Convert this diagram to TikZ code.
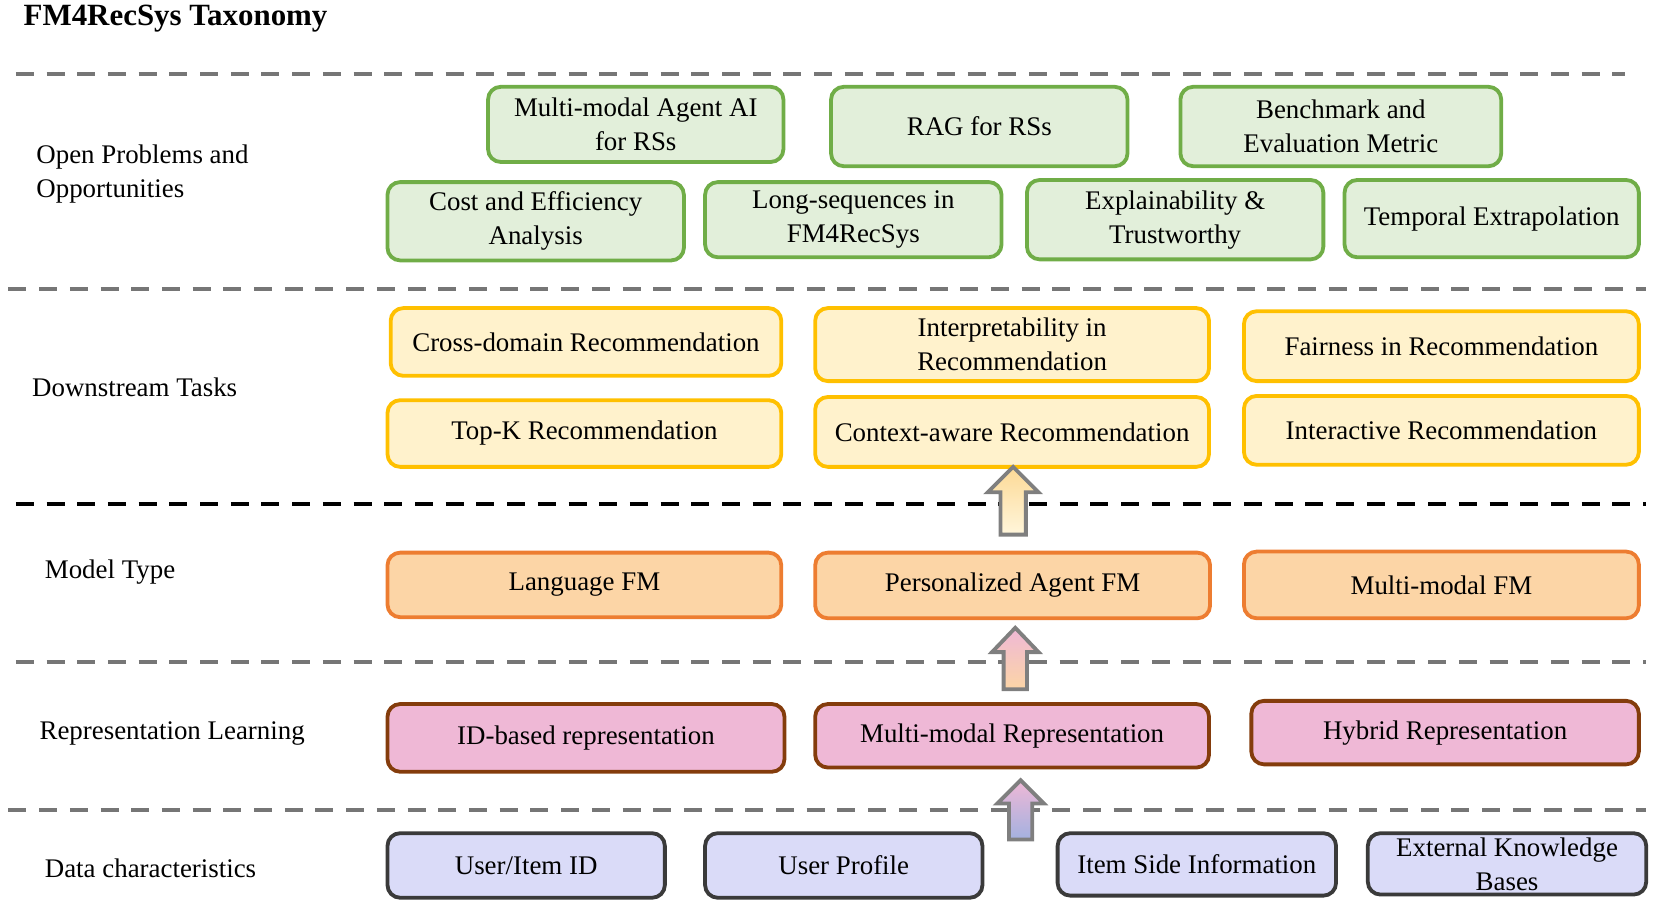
\documentclass[tikz,border=0pt]{standalone}
\usepackage{fontspec}
\setmainfont{Liberation Serif}
\usetikzlibrary{positioning}

\definecolor{greenfill}{HTML}{E2EFDA}
\definecolor{greenline}{HTML}{70AD47}
\definecolor{yellowfill}{HTML}{FFF2CC}
\definecolor{yellowline}{HTML}{FFC000}
\definecolor{orangefill}{HTML}{FCD5A6}
\definecolor{orangeline}{HTML}{ED7D31}
\definecolor{pinkfill}{HTML}{EFB8D6}
\definecolor{pinkline}{HTML}{843C0C}
\definecolor{bluefill}{HTML}{DADBF8}
\definecolor{blueline}{HTML}{3A3A3A}
\definecolor{arrowblue}{HTML}{A3B1E0}
\definecolor{sepgray}{HTML}{767676}
\definecolor{arrowline}{HTML}{7F7F7F}

\tikzset{
	box/.style={draw, rounded corners=6pt, line width=1.8pt, align=center, inner sep=2pt,
		font=\fontsize{12.7}{16}\selectfont},
	openbox/.style={box, draw=greenline, fill=greenfill},
	taskbox/.style={box, draw=yellowline, fill=yellowfill},
	modelbox/.style={box, draw=orangeline, fill=orangefill},
	reprbox/.style={box, draw=pinkline, fill=pinkfill},
	databox/.style={box, draw=blueline, fill=bluefill},
	layerlabel/.style={anchor=west, align=left, inner sep=0pt, font=\fontsize{12.7}{16}\selectfont},
	sepline/.style={line width=1.8pt, dash pattern=on 8.5pt off 6pt},
	uparrow/.style={draw=arrowline, line width=1.8pt, line join=miter}
}

\begin{document}
\begin{tikzpicture}[x=0.5pt, y=-0.5pt]
	\useasboundingbox (0,0) rectangle (1568,862);
	
	% Title
	\node[anchor=west, inner sep=0pt, font=\fontsize{14.6}{18}\selectfont\bfseries] (title) at (22,18) {FM4RecSys Taxonomy};
	
	% Separators
	\draw[sepline, sepgray] (15,70) -- (1535,70);
	\draw[sepline, sepgray] (8,273) -- (1555,273);
	\draw[sepline, black] (15,476) -- (1555,476);
	\draw[sepline, sepgray] (15,625) -- (1555,625);
	\draw[sepline, sepgray] (8,765) -- (1555,765);
	
	% Layer names
	\node[layerlabel] (lopen) at (34,164) {Open Problems and\\Opportunities};
	\node[layerlabel] (ltask) at (30,366) {Downstream Tasks};
	\node[layerlabel] (lmodel) at (42,540) {Model Type};
	\node[layerlabel] (lrepr) at (37,693) {Representation Learning};
	\node[layerlabel] (ldata) at (42,820) {Data characteristics};
	
	% Open problems
	\node[openbox, minimum width=139.5pt, minimum height=35.5pt] (mmagent) at (600.5,117.5) {Multi-modal Agent AI\\for RSs};
	\node[openbox, minimum width=140pt, minimum height=37.5pt] (rag) at (925,119.5) {RAG for RSs};
	\node[openbox, minimum width=151.5pt, minimum height=37.5pt] (bench) at (1266.5,119.5) {Benchmark and\\Evaluation Metric};
	\node[openbox, minimum width=140pt, minimum height=37pt] (cost) at (506,209) {Cost and Efficiency\\Analysis};
	\node[openbox, minimum width=140pt, minimum height=35.5pt] (longseq) at (806,207.5) {Long-sequences in\\FM4RecSys};
	\node[openbox, minimum width=140pt, minimum height=37.5pt] (explain) at (1110,207.5) {Explainability \&\\Trustworthy};
	\node[openbox, minimum width=139pt, minimum height=36.5pt] (temporal) at (1409,206.5) {Temporal Extrapolation};
	
	% Downstream tasks
	\node[taskbox, minimum width=184.5pt, minimum height=32pt] (cross) at (553.5,323) {Cross-domain Recommendation};
	\node[taskbox, minimum width=186pt, minimum height=34.5pt] (interp) at (956,325.5) {Interpretability in\\Recommendation};
	\node[taskbox, minimum width=186.5pt, minimum height=33pt] (fair) at (1361.5,327) {Fairness in Recommendation};
	\node[taskbox, minimum width=186pt, minimum height=31.5pt] (topk) at (552,409.5) {Top-K Recommendation};
	\node[taskbox, minimum width=186pt, minimum height=33pt] (context) at (956,408) {Context-aware Recommendation};
	\node[taskbox, minimum width=186.5pt, minimum height=32.5pt] (interact) at (1361.5,406.5) {Interactive Recommendation};
	
	% Model types
	\node[modelbox, minimum width=186pt, minimum height=30.5pt] (langfm) at (552,552.5) {Language FM};
	\node[modelbox, minimum width=186.5pt, minimum height=31pt] (agentfm) at (956.5,553) {Personalized Agent FM};
	\node[modelbox, minimum width=186.5pt, minimum height=31.5pt] (mmfm) at (1361.5,552.5) {Multi-modal FM};
	
	% Representation learning
	\node[reprbox, minimum width=187.5pt, minimum height=32pt] (idrep) at (553.5,697) {ID-based representation};
	\node[reprbox, minimum width=186pt, minimum height=30pt] (mmrep) at (956,695) {Multi-modal Representation};
	\node[reprbox, minimum width=183pt, minimum height=30pt] (hybrid) at (1365,692) {Hybrid Representation};
	
	% Data characteristics
	\node[databox, minimum width=131pt, minimum height=30.5pt] (itemid) at (497,817.5) {User/Item ID};
	\node[databox, minimum width=131pt, minimum height=30.5pt] (profile) at (797,817.5) {User Profile};
	\node[databox, minimum width=131.5pt, minimum height=29.5pt] (sideinfo) at (1130.5,816.5) {Item Side Information};
	\node[databox, minimum width=131.5pt, minimum height=29pt] (knowledge) at (1423.5,816) {External Knowledge\\Bases};
	
	% Block arrows between layers
	\shade[uparrow, top color=orangefill!90!yellow, bottom color=yellowfill!70!white]
		(945,505) -- (945,465) -- (933,465) -- (957,441) -- (981,465) -- (969,465) -- (969,505) -- cycle;
	\shade[uparrow, top color=pinkfill, bottom color=orangefill]
		(948,651) -- (948,616) -- (937,616) -- (959,593) -- (981,616) -- (970,616) -- (970,651) -- cycle;
	\shade[uparrow, top color=pinkfill, bottom color=arrowblue]
		(953,793) -- (953,759) -- (942,759) -- (964,737) -- (986,759) -- (975,759) -- (975,793) -- cycle;
\end{tikzpicture}
\end{document}
